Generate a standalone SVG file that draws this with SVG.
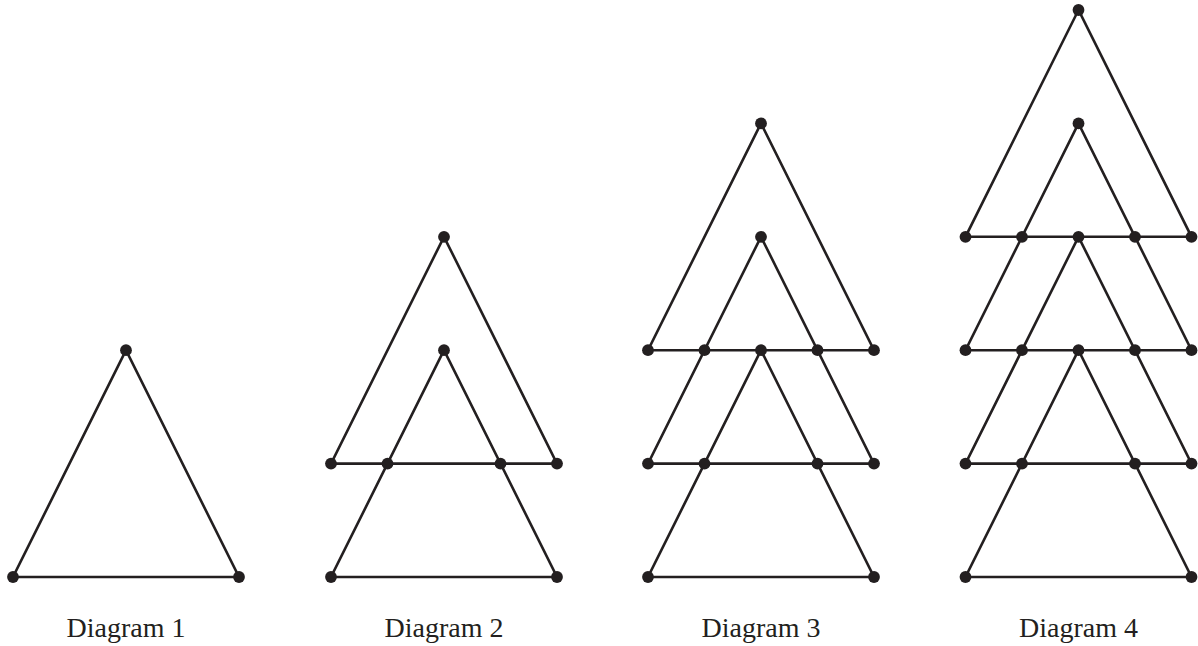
<svg xmlns="http://www.w3.org/2000/svg" width="1198" height="646" viewBox="0 0 1198 646">
<style>
.e{fill:none;stroke:#231f20;stroke-width:2.6;stroke-linejoin:miter}
.n circle{fill:#231f20}
.lbl{font-family:"Liberation Serif","Times New Roman",serif;font-size:28px;fill:#231f20;text-anchor:middle}
</style>
<rect width="1198" height="646" fill="#fff"/>
<g id="connectors">
<polygon class="e" points="126,350.2 13,577 239,577"/>
<polygon class="e" points="444,350.2 331,577 557,577"/>
<polygon class="e" points="444,236.8 331,463.6 557,463.6"/>
<polygon class="e" points="761,350.2 648,577 874,577"/>
<polygon class="e" points="761,236.8 648,463.6 874,463.6"/>
<polygon class="e" points="761,123.4 648,350.2 874,350.2"/>
<polygon class="e" points="1078.5,350.2 965.5,577 1191.5,577"/>
<polygon class="e" points="1078.5,236.8 965.5,463.6 1191.5,463.6"/>
<polygon class="e" points="1078.5,123.4 965.5,350.2 1191.5,350.2"/>
<polygon class="e" points="1078.5,10 965.5,236.8 1191.5,236.8"/>
</g>
<g id="diagram1" class="n">
<circle cx="126" cy="350.2" r="5.9"/><circle cx="13" cy="577" r="5.9"/><circle cx="239" cy="577" r="5.9"/>
</g>
<g id="diagram2" class="n">
<circle cx="444" cy="236.8" r="5.9"/><circle cx="444" cy="350.2" r="5.9"/>
<circle cx="331" cy="463.6" r="5.9"/><circle cx="387.5" cy="463.6" r="5.9"/><circle cx="500.5" cy="463.6" r="5.9"/><circle cx="557" cy="463.6" r="5.9"/>
<circle cx="331" cy="577" r="5.9"/><circle cx="557" cy="577" r="5.9"/>
</g>
<g id="diagram3" class="n">
<circle cx="761" cy="123.4" r="5.9"/><circle cx="761" cy="236.8" r="5.9"/>
<circle cx="648" cy="350.2" r="5.9"/><circle cx="704.5" cy="350.2" r="5.9"/><circle cx="761" cy="350.2" r="5.9"/><circle cx="817.5" cy="350.2" r="5.9"/><circle cx="874" cy="350.2" r="5.9"/>
<circle cx="648" cy="463.6" r="5.9"/><circle cx="704.5" cy="463.6" r="5.9"/><circle cx="817.5" cy="463.6" r="5.9"/><circle cx="874" cy="463.6" r="5.9"/>
<circle cx="648" cy="577" r="5.9"/><circle cx="874" cy="577" r="5.9"/>
</g>
<g id="diagram4" class="n">
<circle cx="1078.5" cy="10" r="5.9"/><circle cx="1078.5" cy="123.4" r="5.9"/>
<circle cx="965.5" cy="236.8" r="5.9"/><circle cx="1022" cy="236.8" r="5.9"/><circle cx="1078.5" cy="236.8" r="5.9"/><circle cx="1135" cy="236.8" r="5.9"/><circle cx="1191.5" cy="236.8" r="5.9"/>
<circle cx="965.5" cy="350.2" r="5.9"/><circle cx="1022" cy="350.2" r="5.9"/><circle cx="1078.5" cy="350.2" r="5.9"/><circle cx="1135" cy="350.2" r="5.9"/><circle cx="1191.5" cy="350.2" r="5.9"/>
<circle cx="965.5" cy="463.6" r="5.9"/><circle cx="1022" cy="463.6" r="5.9"/><circle cx="1135" cy="463.6" r="5.9"/><circle cx="1191.5" cy="463.6" r="5.9"/>
<circle cx="965.5" cy="577" r="5.9"/><circle cx="1191.5" cy="577" r="5.9"/>
</g>
<g id="labels">
<text class="lbl" x="126" y="637">Diagram 1</text>
<text class="lbl" x="444" y="637">Diagram 2</text>
<text class="lbl" x="761" y="637">Diagram 3</text>
<text class="lbl" x="1078.5" y="637">Diagram 4</text>
</g>
</svg>
